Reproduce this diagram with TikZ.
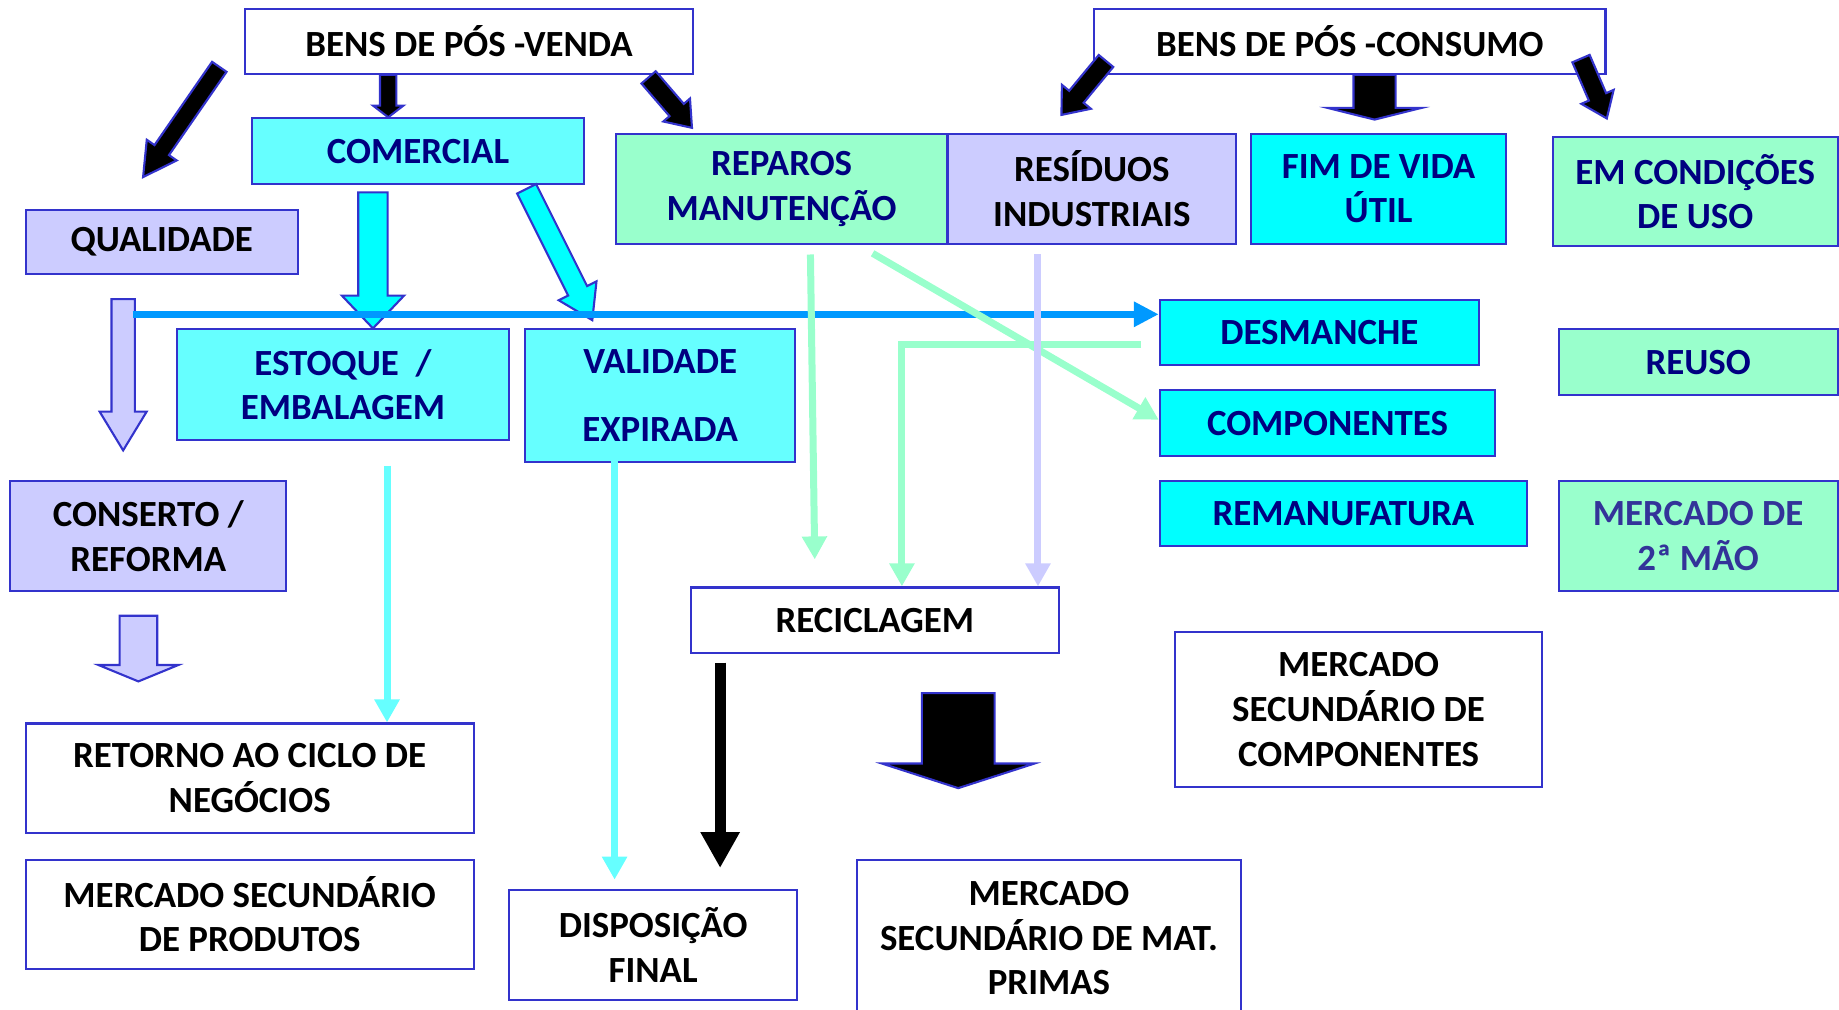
\documentclass[tikz,border=0pt]{standalone}
\usepackage{fontspec}
\setmainfont{Carlito}
\usepackage{tikz}
\usetikzlibrary{calc,arrows.meta}

\definecolor{edgeblue}{RGB}{51,51,204}
\definecolor{navytext}{RGB}{0,0,128}
\definecolor{paletext}{RGB}{51,51,153}
\definecolor{cyanlt}{RGB}{102,255,255}
\definecolor{cyanfull}{RGB}{0,255,255}
\definecolor{mintgreen}{RGB}{153,255,204}
\definecolor{lavbox}{RGB}{204,204,255}
\definecolor{linkblue}{RGB}{0,153,255}

% block arrow: style, tail, tip, half shaft, half head, head length
\newcommand{\fatarrow}[6]{%
  \coordinate (fa-t) at #2;
  \coordinate (fa-p) at #3;
  \coordinate (fa-b) at ($(fa-p)!#6!(fa-t)$);
  \filldraw[#1] ($(fa-t)!#4!90:(fa-p)$) -- ($(fa-b)!#4!90:(fa-p)$) -- ($(fa-b)!#5!90:(fa-p)$) -- (fa-p)
    -- ($(fa-b)!#5!-90:(fa-p)$) -- ($(fa-b)!#4!-90:(fa-p)$) -- ($(fa-t)!#4!-90:(fa-p)$) -- cycle;}

\begin{document}
\begin{tikzpicture}[x=0.11728mm, y=-0.11728mm,
	flowbox/.style n args={3}{draw=edgeblue, line width=0.6pt, fill=#1, minimum width=#2*0.11728mm, minimum height=#3*0.11728mm, anchor=north west, inner sep=0pt, align=center, font=\bfseries\fontsize{10.5}{12.7}\selectfont},
	fatfill/.style={fill=#1, draw=edgeblue, line width=0.6pt},
	thinarrow/.style={line width=0.7mm, -{Triangle[length=2.3mm,width=2.4mm]}}]
	\useasboundingbox (0,0) rectangle (1568,861);
	
	% top row
	\node[flowbox={white}{382}{55}] (vendabox) at (208,7) {BENS DE PÓS -VENDA};
	\node[flowbox={white}{436}{55}] (consumobox) at (932,7) {BENS DE PÓS -CONSUMO};
	\node[flowbox={cyanlt}{283}{56}, text=navytext] (comercial) at (214,100) {COMERCIAL};
	\node[flowbox={lavbox}{232}{55}] (qualidade) at (21,178) {QUALIDADE};
	\node[flowbox={mintgreen}{283}{94}, text=navytext] (reparos) at (524,113) {REPAROS\\MANUTENÇÃO};
	\node[flowbox={lavbox}{246}{94}] (residuos) at (807,113) {RESÍDUOS\\INDUSTRIAIS};
	\node[flowbox={cyanfull}{217}{94}, text=navytext] (fimvida) at (1066,113) {FIM DE VIDA\\ÚTIL};
	\node[flowbox={mintgreen}{243}{93}, text=navytext] (condicoes) at (1323,116) {EM CONDIÇÕES\\DE USO};
	
	% middle
	\node[flowbox={cyanlt}{283}{94}, text=navytext] (estoque) at (150,280) {ESTOQUE\ \ /\\EMBALAGEM};
	\node[flowbox={cyanlt}{230}{113}, text=navytext] (validade) at (447,280) {VALIDADE\\[6.6pt]EXPIRADA};
	\node[flowbox={cyanfull}{272}{55}, text=navytext] (desmanche) at (988,255) {DESMANCHE};
	\node[flowbox={cyanfull}{286}{56}, text=navytext] (componentes) at (988,332) {COMPONENTES};
	\node[flowbox={cyanfull}{313}{56}, text=navytext] (remanufatura) at (988,409) {REMANUFATURA};
	\node[flowbox={mintgreen}{238}{56}, text=navytext] (reuso) at (1328,280) {REUSO};
	\node[flowbox={mintgreen}{238}{94}, text=paletext] (segundamao) at (1328,409) {MERCADO DE\\2ª MÃO};
	\node[flowbox={lavbox}{235}{94}] (conserto) at (8,409) {CONSERTO /\\REFORMA};
	\node[flowbox={white}{314}{56}] (reciclagem) at (588,500) {RECICLAGEM};
	
	% bottom
	\node[flowbox={white}{313}{132}] (mercomp) at (1001,538) {MERCADO\\SECUNDÁRIO DE\\COMPONENTES};
	\node[flowbox={white}{382}{93}] (retorno) at (21,616) {RETORNO AO CICLO DE\\NEGÓCIOS};
	\node[flowbox={white}{382}{93}] (merprod) at (21,732) {MERCADO SECUNDÁRIO\\DE PRODUTOS};
	\node[flowbox={white}{246}{94}] (disposicao) at (433,758) {DISPOSIÇÃO\\FINAL};
	\node[flowbox={white}{327}{134}] (mermat) at (730,732) {MERCADO\\SECUNDÁRIO DE MAT.\\PRIMAS};
	
	% block arrows
	\fatarrow{fatfill=black}{(vendabox.south -| 331,0)}{(331,100)}{0.82mm}{1.52mm}{1.17mm}
	\fatarrow{fatfill=black}{(187,57)}{(122,151)}{0.88mm}{1.82mm}{3.28mm}
	\fatarrow{fatfill=black}{(553,66)}{(590,109)}{0.94mm}{1.76mm}{2.35mm}
	\fatarrow{fatfill=black}{(943,52)}{(905,98)}{0.94mm}{1.88mm}{2.35mm}
	\fatarrow{fatfill=black}{(consumobox.south -| 1172,0)}{(1172,102)}{2.11mm}{4.69mm}{1.17mm}
	\fatarrow{fatfill=black}{(1348,50)}{(1370,101)}{0.94mm}{1.76mm}{2.35mm}
	\fatarrow{fatfill=cyanfull}{(318,164)}{(estoque.north -| 318,0)}{1.47mm}{3.11mm}{3.28mm}
	\fatarrow{fatfill=cyanfull}{(449,161)}{(505,273)}{1.06mm}{2.11mm}{3.28mm}
	\fatarrow{fatfill=lavbox}{(105,255)}{(105,384)}{1.17mm}{2.35mm}{3.87mm}
	\fatarrow{fatfill=lavbox}{(118,525)}{(118,581)}{1.88mm}{3.99mm}{1.64mm}
	\fatarrow{fatfill=black}{(817,591)}{(817,672)}{3.64mm}{7.62mm}{2.46mm}
	
	% thin connectors
	\coordinate (bluestart) at (113,268);
	\coordinate (estoque-out) at (330,397);
	\coordinate (validade-out) at (524,393);
	\coordinate (recicl-out) at (614,565);
	\coordinate (reparos-out) at (691,217);
	\coordinate (reparos-diag) at (744,216);
	\coordinate (desmanche-out) at (973,294);
	\coordinate (residuos-out) at (885,217);
	
	\draw[line width=0.75mm, linkblue, -{Triangle[length=2.5mm,width=2.4mm]}] (bluestart) -- (desmanche.west |- bluestart);
	\draw[thinarrow, cyanlt] (estoque-out) -- (retorno.north -| estoque-out);
	\draw[thinarrow, cyanlt, shorten >=0.94mm] (validade-out) -- (disposicao.north -| validade-out);
	\draw[line width=1.1mm, -{Triangle[length=3.6mm,width=3.7mm]}, shorten >=2.1mm] (recicl-out) -- (disposicao.north -| recicl-out);
	\draw[thinarrow, mintgreen, shorten >=2.7mm] (reparos-out) -- (reciclagem.north -| 695,0);
	\draw[thinarrow, mintgreen] (reparos-diag) -- ([yshift=0.35mm]componentes.west);
	\draw[thinarrow, mintgreen] (desmanche-out) -| (reciclagem.north -| 769,0);
	\draw[thinarrow, lavbox] (residuos-out) -- (reciclagem.north -| residuos-out);
\end{tikzpicture}
\end{document}
